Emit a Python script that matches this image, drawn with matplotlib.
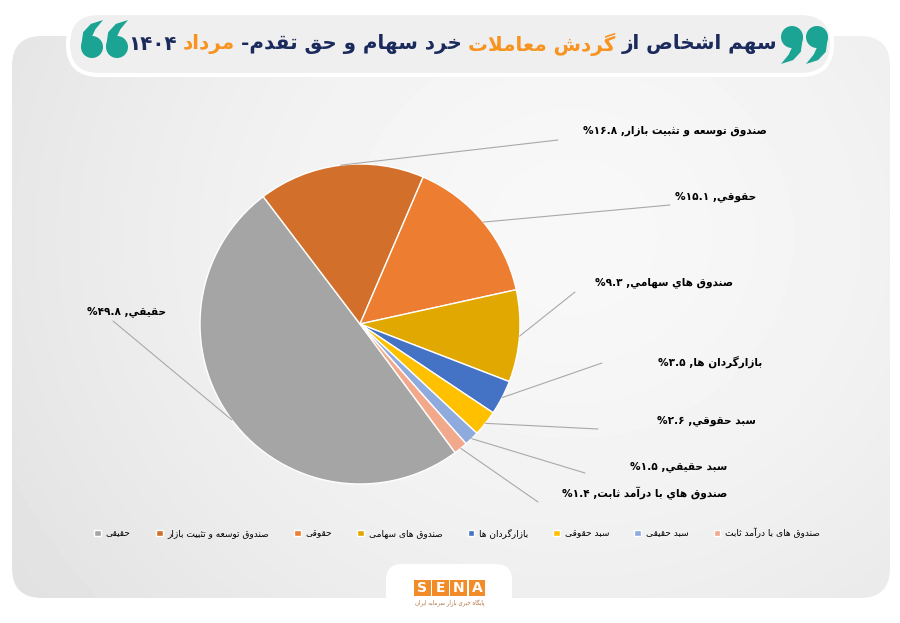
import re
import numpy as np
import matplotlib
matplotlib.use('Agg')
import matplotlib.pyplot as plt
from matplotlib.patches import FancyBboxPatch, Circle, Polygon, Rectangle

# ---- data -------------------------------------------------------------
categories = ['حقیقی', 'صندوق توسعه و تثبیت بازار', 'حقوقی', 'صندوق های سهامی',
              'بازارگردان ها', 'سبد حقوقی', 'سبد حقیقی', 'صندوق های با درآمد ثابت']
label_names = ['حقيقي', 'صندوق توسعه و تثبيت بازار', 'حقوقي', 'صندوق هاي سهامي',
               'بازارگردان ها', 'سبد حقوقي', 'سبد حقيقي', 'صندوق هاي با درآمد ثابت']
shares = [49.8, 16.8, 15.1, 9.3, 3.5, 2.6, 1.5, 1.4]
colors = ['#a5a5a5', '#d2702b', '#ed7d31', '#e0a800', '#4472c4', '#ffc000', '#8faadc', '#f2a98b']

title_parts = [('سهم اشخاص از', '#1b2a5c'), ('گردش معاملات', '#f7931e'),
               ('خرد سهام و حق تقدم-', '#1b2a5c'), ('مرداد', '#f7931e'), ('۱۴۰۴', '#1b2a5c')]

# label layout in pixels (text left x, text y, leader line end)
label_text_xy = [(87, 312), (583, 131), (675, 197), (595, 283),
                 (658, 362), (657, 421), (630, 467), (562, 493)]
line_end_xy = [(113, 321), (558, 140), (670, 205), (575, 292),
               (602, 363), (598, 429), (585, 473), (538, 502)]

# ---- minimal Persian shaping (matplotlib has no bidi / joining) ----------
DUAL = {'ب': 0xFE8F, 'ت': 0xFE95, 'ث': 0xFE99, 'ج': 0xFE9D, 'ح': 0xFEA1, 'خ': 0xFEA5,
        'س': 0xFEB1, 'ش': 0xFEB5, 'ص': 0xFEB9, 'ض': 0xFEBD, 'ط': 0xFEC1, 'ظ': 0xFEC5,
        'ع': 0xFEC9, 'غ': 0xFECD, 'ف': 0xFED1, 'ق': 0xFED5, 'ل': 0xFEDD, 'م': 0xFEE1,
        'ن': 0xFEE5, 'ه': 0xFEE9, 'ي': 0xFEF1, 'پ': 0xFB56, 'چ': 0xFB7A, 'ک': 0xFB8E,
        'گ': 0xFB92, 'ی': 0xFBFC}
RIGHT = {'ا': 0xFE8D, 'آ': 0xFE81, 'د': 0xFEA9, 'ذ': 0xFEAB, 'ر': 0xFEAD, 'ز': 0xFEAF,
         'ژ': 0xFB8A, 'و': 0xFEED}
LAM_ALEF = {'ا': 0xFEFB, 'آ': 0xFEF5}


def shape(s):
    out = []
    i = 0
    n = len(s)
    letter = lambda c: c in DUAL or c in RIGHT
    while i < n:
        c = s[i]
        jp = i > 0 and s[i - 1] in DUAL and letter(c)
        if c == 'ل' and i + 1 < n and s[i + 1] in LAM_ALEF:
            base = LAM_ALEF[s[i + 1]]
            out.append(chr(base + 1) if jp else chr(base))
            i += 2
            continue
        jn = c in DUAL and i + 1 < n and letter(s[i + 1])
        if c in DUAL:
            b = DUAL[c]
            out.append(chr(b + (3 if jp and jn else 1 if jp else 2 if jn else 0)))
        elif c in RIGHT:
            out.append(chr(RIGHT[c] + (1 if jp else 0)))
        else:
            out.append(c)
        i += 1
    return ''.join(out)


def fa(s):
    t = shape(s)[::-1]
    return re.sub(r'[0-9۰-۹][0-9۰-۹.]*', lambda m: m.group(0)[::-1], t)


def fa_num(v):
    return str(v).translate(str.maketrans('0123456789', '۰۱۲۳۴۵۶۷۸۹'))


plt.rcParams['font.family'] = ['DejaVu Sans']

fig = plt.figure(figsize=(9, 6.23), dpi=100)
fig.patch.set_facecolor('white')

# background axes in pixel coordinates
bg = fig.add_axes([0, 0, 1, 1])
bg.set_xlim(0, 900)
bg.set_ylim(623, 0)
bg.axis('off')

# main rounded panel with soft grey gradient
panel = FancyBboxPatch((12, 36), 878, 562, boxstyle='round,pad=0,rounding_size=30',
                       facecolor='none', edgecolor='none')
bg.add_patch(panel)
yy, xx = np.mgrid[0:562, 0:878]
d = np.sqrt(((xx - 560) / 470.0) ** 2 + ((yy - 200) / 430.0) ** 2)
grad = np.clip(0.972 - 0.05 * d ** 1.6, 0, 1)
im = bg.imshow(grad, cmap='gray', vmin=0, vmax=1, extent=(12, 890, 598, 36),
               interpolation='bilinear', zorder=1)
im.set_clip_path(panel)

# white tab for the logo
bg.add_patch(FancyBboxPatch((386, 564), 126, 80, boxstyle='round,pad=0,rounding_size=16',
                            facecolor='white', edgecolor='none', zorder=2))

# title pill
bg.add_patch(FancyBboxPatch((68, 13), 764, 62, boxstyle='round,pad=0,rounding_size=31',
                            facecolor='#efefef', edgecolor='white', linewidth=3, zorder=3))


def quote_mark(cx, cy, r, flip, color='#1ba393'):
    # head circle with a tail; flip turns a "9" into a "6"
    pts = np.array([(r * 0.99, 0.5), (r * 0.8, r * 1.35), (0.1 * r, r * 2.1), (-r * 1.0, r * 2.45),
                    (-r * 0.3, r * 1.6), (r * 0.0, r * 0.95)])
    if flip:
        pts = -pts
    bg.add_patch(Circle((cx, cy), r, facecolor=color, edgecolor='none', zorder=4))
    bg.add_patch(Polygon(pts + [cx, cy], closed=True, facecolor=color, edgecolor='none', zorder=4))


quote_mark(792, 37, 11, False)
quote_mark(817, 37, 11, False)
quote_mark(92, 47, 11, True)
quote_mark(117, 47, 11, True)

# title text, drawn piece by piece from right to left
renderer = fig.canvas.get_renderer()
x_right = 777
for part, col in title_parts:
    t = bg.text(x_right, 44, fa(part), ha='right', va='center', fontsize=14.3,
                fontweight='bold', color=col, zorder=5)
    w = t.get_window_extent(renderer).width
    x_right -= w + 6

# ---- pie ------------------------------------------------------------------
ax = fig.add_axes([200 / 900, (623 - 484) / 623, 320 / 900, 320 / 623])
ax.set_zorder(6)
wedges, _ = ax.pie(shares, colors=colors, startangle=-53.5, counterclock=False,
                   radius=1.0, wedgeprops=dict(edgecolor='white', linewidth=1.0))
ax.set_xlim(-1, 1)
ax.set_ylim(-1, 1)
ax.set_aspect('equal')

for w, name, val, txy, lxy in zip(wedges, label_names, shares, label_text_xy, line_end_xy):
    ang = np.deg2rad((w.theta1 + w.theta2) / 2)
    ax.annotate('', xy=(np.cos(ang), np.sin(ang)), xycoords='data',
                xytext=lxy, textcoords=bg.transData, annotation_clip=False,
                arrowprops=dict(arrowstyle='-', color='#a9a9a9', lw=0.8, shrinkA=0, shrinkB=0))
    bg.text(txy[0], txy[1], fa(name + ', ' + fa_num(val) + '%'), ha='left', va='center',
            fontsize=7.6, fontweight='bold', color='black', zorder=7)

# ---- legend ---------------------------------------------------------------
fig.legend(wedges, [fa(c) for c in categories], loc='center', ncol=8,
           bbox_to_anchor=(457 / 900, 1 - 533 / 623), frameon=False, fontsize=6.5,
           handlelength=0.75, handleheight=0.75, handletextpad=0.5, columnspacing=2.8)

# ---- logo -----------------------------------------------------------------
for k, ch in enumerate('SENA'):
    bg.add_patch(Rectangle((414 + k * 18.2, 580), 16.8, 16, facecolor='#f28c28',
                           edgecolor='none', zorder=8))
    bg.text(414 + k * 18.2 + 8.4, 588.5, ch, ha='center', va='center', color='white',
            fontsize=10, fontweight='bold', zorder=9)
bg.text(450, 603, fa('پایگاه خبری بازار سرمایه ایران'), ha='center', va='center',
        fontsize=4, color='#b07040', zorder=9)

fig.savefig('out.png', dpi=100, facecolor='white')
